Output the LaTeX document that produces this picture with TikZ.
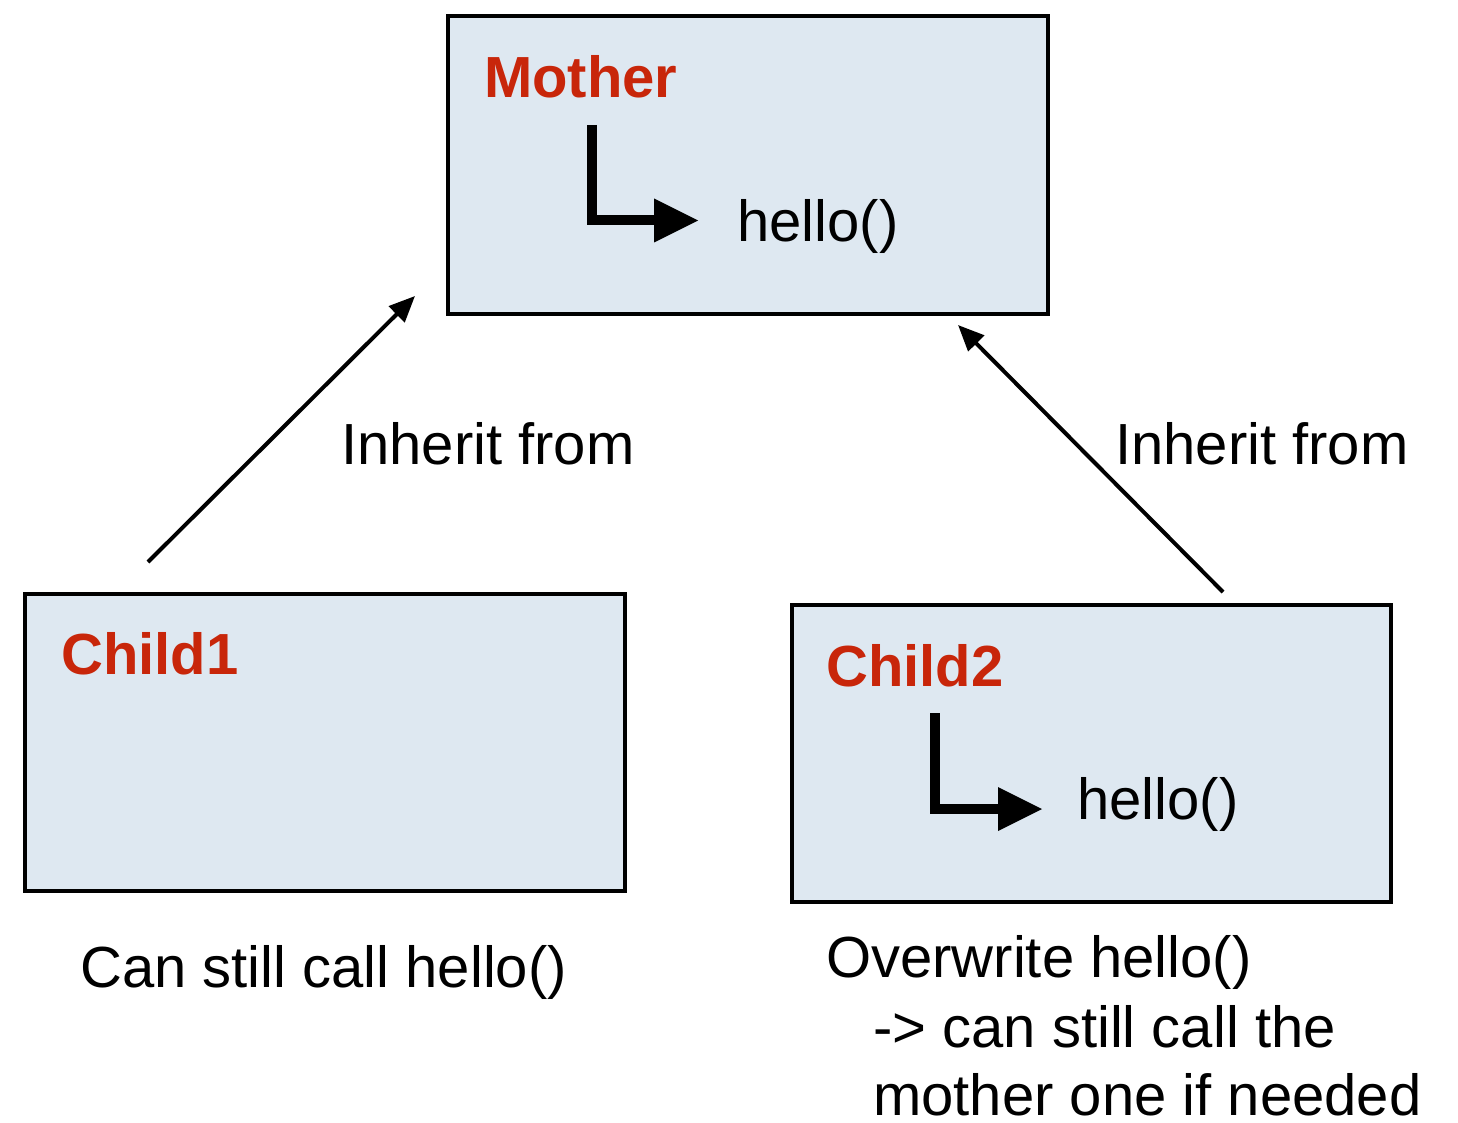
\documentclass[tikz,border=0pt]{standalone}
\usepackage{fontspec}
\setmainfont{Liberation Sans}
\usetikzlibrary{arrows.meta}
\definecolor{boxfill}{RGB}{222,232,241}
\definecolor{titlered}{RGB}{200,38,10}
\begin{document}
\begin{tikzpicture}[x=1pt,y=-1pt,
  classbox/.style={draw=black,line width=4.5pt,fill=boxfill,rectangle,inner sep=0pt},
  txt/.style={anchor=base west,inner sep=0pt,font=\fontsize{58pt}{70pt}\selectfont},
  title/.style={txt,font=\fontsize{58pt}{70pt}\selectfont\bfseries,text=titlered},
  inherit/.style={line width=4pt,-{Triangle[length=26pt,width=22pt]}},
  elbow/.style={line width=10pt,line join=miter,line cap=butt}]
\useasboundingbox (0,0) rectangle (1458,1123);

% class boxes
\node[classbox,minimum width=600pt,minimum height=298pt] (mother) at (748,165) {};
\node[classbox,minimum width=600pt,minimum height=297pt] (child1) at (325,742.5) {};
\node[classbox,minimum width=599pt,minimum height=297pt] (child2) at (1091.5,753.5) {};

% titles and methods
\node[title] (mtitle) at (484,98) {Mother};
\node[title] (c1title) at (61,674) {Child1};
\node[title] (c2title) at (826,686) {Child2};
\node[txt] (mhello) at (737,242) {hello()};
\node[txt] (c2hello) at (1077,819) {hello()};

% elbow arrows pointing at the methods
\coordinate (mtop) at (591.5,125);
\coordinate (mbase) at (654,220.5);
\coordinate (mtip) at (698,220.5);
\draw[elbow] (mtop) |- (mbase);
\fill (654,198.5) -- (mtip) -- (654,242.5) -- cycle;

\coordinate (ctop) at (934.5,713);
\coordinate (cbase) at (998,809);
\coordinate (ctip) at (1042,809);
\draw[elbow] (ctop) |- (cbase);
\fill (998,787) -- (ctip) -- (998,831) -- cycle;

% inheritance connectors
\coordinate (c1out) at (148,562);
\coordinate (min1) at (415,296);
\coordinate (c2out) at (1223,592);
\coordinate (min2) at (958,325);
\draw[inherit] (c1out) -- (min1);
\draw[inherit] (c2out) -- (min2);
\node[txt] (lab1) at (341,464) {Inherit from};
\node[txt] (lab2) at (1115,464) {Inherit from};

% notes under the children
\node[txt] (note1) at (80,987) {Can still call hello()};
\node[txt] (note2a) at (826,977) {Overwrite hello()};
\node[txt] (note2b) at (873,1047) {-> can still call the};
\node[txt] (note2c) at (873,1115) {mother one if needed};
\end{tikzpicture}
\end{document}
